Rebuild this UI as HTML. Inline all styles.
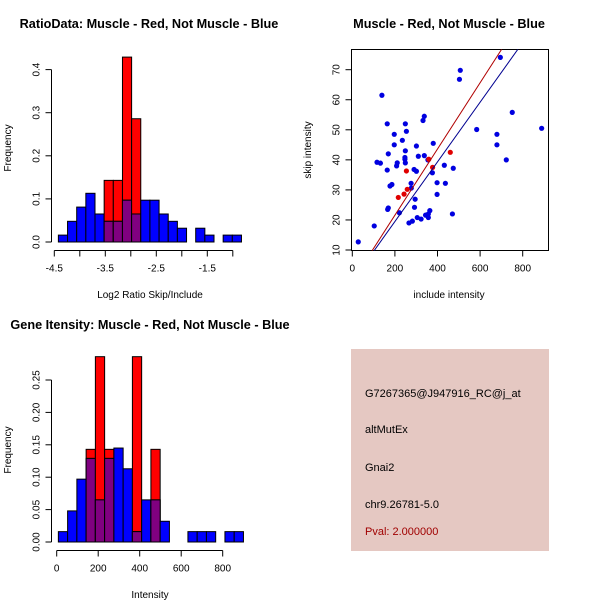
<!DOCTYPE html>
<html><head><meta charset="utf-8"><style>
html,body{margin:0;padding:0;background:#fff;}
svg{display:block;font-family:"Liberation Sans",sans-serif;}
</style></head><body>
<svg id="s" width="600" height="600" viewBox="0 0 600 600">
<rect x="0" y="0" width="600" height="600" fill="#fff"/>
<text x="149" y="28" font-size="12.7" font-weight="bold" text-anchor="middle">RatioData: Muscle - Red, Not Muscle - Blue</text>
<text x="449" y="28" font-size="12.7" font-weight="bold" text-anchor="middle">Muscle - Red, Not Muscle - Blue</text>
<text x="150" y="329" font-size="12.7" font-weight="bold" text-anchor="middle">Gene Itensity: Muscle - Red, Not Muscle - Blue</text>
<text x="150" y="298" font-size="10" text-anchor="middle">Log2 Ratio Skip/Include</text>
<text transform="translate(11,148) rotate(-90)" font-size="10" text-anchor="middle">Frequency</text>
<text x="449" y="298" font-size="10" text-anchor="middle">include intensity</text>
<text transform="translate(311,150) rotate(-90)" font-size="10" text-anchor="middle">skip intensity</text>
<text x="150" y="598" font-size="10" text-anchor="middle">Intensity</text>
<text transform="translate(11,450) rotate(-90)" font-size="10" text-anchor="middle">Frequency</text>
<rect x="351" y="349" width="198" height="202" fill="#e5c8c2"/>
<text x="365" y="397" font-size="11">G7267365@J947916_RC@j_at</text>
<text x="365" y="433" font-size="11">altMutEx</text>
<text x="365" y="471" font-size="11">Gnai2</text>
<text x="365" y="508" font-size="11">chr9.26781-5.0</text>
<text x="365" y="535" font-size="11" fill="#a00000">Pval: 2.000000</text>
</svg>
<script>
// ---- Ratio histogram data ----
const ratioStart = -4.42;
const ratioBinWidth = 0.1795;
const ratioBlue = [0.016,0.048,0.081,0.113,0.065,0.048,0.048,0.097,0.065,0.097,0.097,0.065,0.048,0.032,0,0.032,0.016,0,0.016,0.016];
const ratioRed  = [0,0,0,0,0,0.143,0.143,0.429,0.286,0,0,0,0,0,0,0,0,0,0,0];
const ratioXTicks = [-4.5,-4,-3.5,-3,-2.5,-2,-1.5,-1];
const ratioXLabels = ["-4.5","","-3.5","","-2.5","","-1.5",""];
const ratioYTicks = [0,0.1,0.2,0.3,0.4];
const ratioYLabels = ["0.0","0.1","0.2","0.3","0.4"];
// ---- Intensity histogram data ----
const intStart = 8;
const intBinWidth = 44.6;
const intBlue = [0.016,0.048,0.097,0.129,0.065,0.129,0.145,0.113,0.016,0.065,0.065,0.032,0,0,0.016,0.016,0.016,0,0.016,0.016];
const intRed  = [0,0,0,0.143,0.286,0.143,0,0,0.286,0,0.143,0,0,0,0,0,0,0,0,0];
const intXTicks = [0,200,400,600,800];
const intXLabels = ["0","200","400","600","800"];
const intYTicks = [0,0.05,0.1,0.15,0.2,0.25];
const intYLabels = ["0.00","0.05","0.10","0.15","0.20","0.25"];
// ---- Scatter data ----
const blueX = [28,103,139,116,132,164,164,169,166,169,177,186,197,197,208,211,221,235,249,254,249,247,247,249,276,277,266,282,301,310,290,301,295,292,305,323,338,332,338,344,357,364,357,355,376,380,398,398,432,437,470,474,503,507,584,679,679,695,723,751,889];
const blueY = [12.7,18,61.5,39.2,38.9,52,36.6,42,23.5,24,31.3,31.8,48.5,45,38,39,22.4,46.5,52,49.5,43,40.8,40.2,39,32.2,30.6,19,19.6,44.6,41.2,36.8,36.2,26.9,24.2,20.8,20.3,54.5,53.1,41.4,21.6,22,23.1,20.8,40,35.7,45.5,32.4,28.5,38.2,32.2,22,37.2,66.8,69.8,50.1,48.5,45,74.1,40,55.8,50.5];
const redX = [216,243,254,258,359,377,460];
const redY = [27.5,28.6,36.3,30.2,40.2,37.5,42.5];
const fitRed = [-0.47, 0.1102];
const fitBlue = [-0.4, 0.0993];
const scXTicks = [0,200,400,600,800];
const scYTicks = [10,20,30,40,50,60,70];

const svg = document.getElementById('s');
const NS = 'http://www.w3.org/2000/svg';
function mk(tag, attrs){const e=document.createElementNS(NS,tag);for(const k in attrs)e.setAttribute(k,attrs[k]);svg.appendChild(e);return e;}

function histogram(prefix, start, bw, blue, red, sx, sy, y0){
  for(let i=0;i<blue.length;i++){
    const a=start+i*bw, b=a+bw;
    const x1=sx(a), x2=sx(b);
    const r=red[i], bl=blue[i];
    if(r>0){
      const e=mk('rect',{x:x1,y:sy(r),width:x2-x1,height:y0-sy(r),fill:'#ff0000',stroke:'#000','stroke-width':1});
      
      
    }
    if(bl>0){
      const e=mk('rect',{x:x1,y:sy(bl),width:x2-x1,height:y0-sy(bl),fill:'#0000ff',stroke:'#000','stroke-width':1});
      
      
    }
    if(r>0&&bl>0){
      const m=Math.min(r,bl);
      const e=mk('rect',{x:x1,y:sy(m),width:x2-x1,height:y0-sy(m),fill:'#800080',stroke:'#000','stroke-width':1});
      
      
    }
  }
}
function xAxis(prefix, ticks, labels, sx, yLine){
  const l=mk('line',{x1:sx(ticks[0]),x2:sx(ticks[ticks.length-1]),y1:yLine,y2:yLine,stroke:'#000'});
  
  
  ticks.forEach((t,i)=>{
    mk('line',{x1:sx(t),x2:sx(t),y1:yLine,y2:yLine+6,stroke:'#000'});
    if(labels[i]){
      const tx=mk('text',{x:sx(t),y:yLine+21,'font-size':10,'text-anchor':'middle'});
      tx.textContent=labels[i];
      
      
    }
  });
}
function yAxis(prefix, ticks, labels, sy, xLine){
  const l=mk('line',{x1:xLine,x2:xLine,y1:sy(ticks[0]),y2:sy(ticks[ticks.length-1]),stroke:'#000'});
  
  
  ticks.forEach((t,i)=>{
    mk('line',{x1:xLine-6,x2:xLine,y1:sy(t),y2:sy(t),stroke:'#000'});
    const tx=mk('text',{transform:`translate(${xLine-12},${sy(t)}) rotate(-90)`,'font-size':10,'text-anchor':'middle'});
    tx.textContent=labels[i];
    
    
  });
}

// Ratio histogram
{
  const sx=v=>54.3+(v+4.5)*51;
  const sy=v=>242-v*431;
  histogram('ratio', ratioStart, ratioBinWidth, ratioBlue, ratioRed, sx, sy, 242);
  xAxis('ratio', ratioXTicks, ratioXLabels, sx, 250.5);
  yAxis('ratio', ratioYTicks, ratioYLabels, sy, 51.5);
}
// Intensity histogram
{
  const sx=v=>56.7+v*0.2075;
  const sy=v=>542-v*648;
  histogram('intensity', intStart, intBinWidth, intBlue, intRed, sx, sy, 542);
  xAxis('intensity', intXTicks, intXLabels, sx, 550.5);
  yAxis('intensity', intYTicks, intYLabels, sy, 51.5);
}
// Scatter
{
  const sx=v=>352.3+v*0.213;
  const sy=v=>250-(v-10)*3.005;
  const L=351.5,R=548.5,T=49.5,B=250.5;
  const box=mk('rect',{x:L,y:T,width:R-L,height:B-T,fill:'none',stroke:'#000'});
  
  
  const cp=mk('clipPath',{id:'clipsc'});
  const cr=document.createElementNS(NS,'rect');
  cr.setAttribute('x',L);cr.setAttribute('y',T);cr.setAttribute('width',R-L);cr.setAttribute('height',B-T);
  cp.appendChild(cr);
  scXTicks.forEach(t=>{
    mk('line',{x1:sx(t),x2:sx(t),y1:B,y2:B+6,stroke:'#000'});
    const tx=mk('text',{x:sx(t),y:B+21,'font-size':10,'text-anchor':'middle'});
    tx.textContent=String(t);
    
    
  });
  scYTicks.forEach(t=>{
    mk('line',{x1:L-6,x2:L,y1:sy(t),y2:sy(t),stroke:'#000'});
    const tx=mk('text',{transform:`translate(${L-12},${sy(t)}) rotate(-90)`,'font-size':10,'text-anchor':'middle'});
    tx.textContent=String(t);
    
    
  });
  blueX.forEach((x,i)=>{
    const c=mk('circle',{cx:sx(x),cy:sy(blueY[i]),r:2.6,fill:'#0000e0','clip-path':'url(#clipsc)'});
    
    
  });
  redX.forEach((x,i)=>{
    const c=mk('circle',{cx:sx(x),cy:sy(redY[i]),r:2.6,fill:'#e00000','clip-path':'url(#clipsc)'});
    
    
  });
  const x0=-100,x1=1000;
  const lr=mk('line',{x1:sx(x0),y1:sy(fitRed[0]+fitRed[1]*x0),x2:sx(x1),y2:sy(fitRed[0]+fitRed[1]*x1),stroke:'#b00000','clip-path':'url(#clipsc)'});
  
  
  const lb=mk('line',{x1:sx(x0),y1:sy(fitBlue[0]+fitBlue[1]*x0),x2:sx(x1),y2:sy(fitBlue[0]+fitBlue[1]*x1),stroke:'#000090','clip-path':'url(#clipsc)'});
  
  
}
</script>
</body></html>
